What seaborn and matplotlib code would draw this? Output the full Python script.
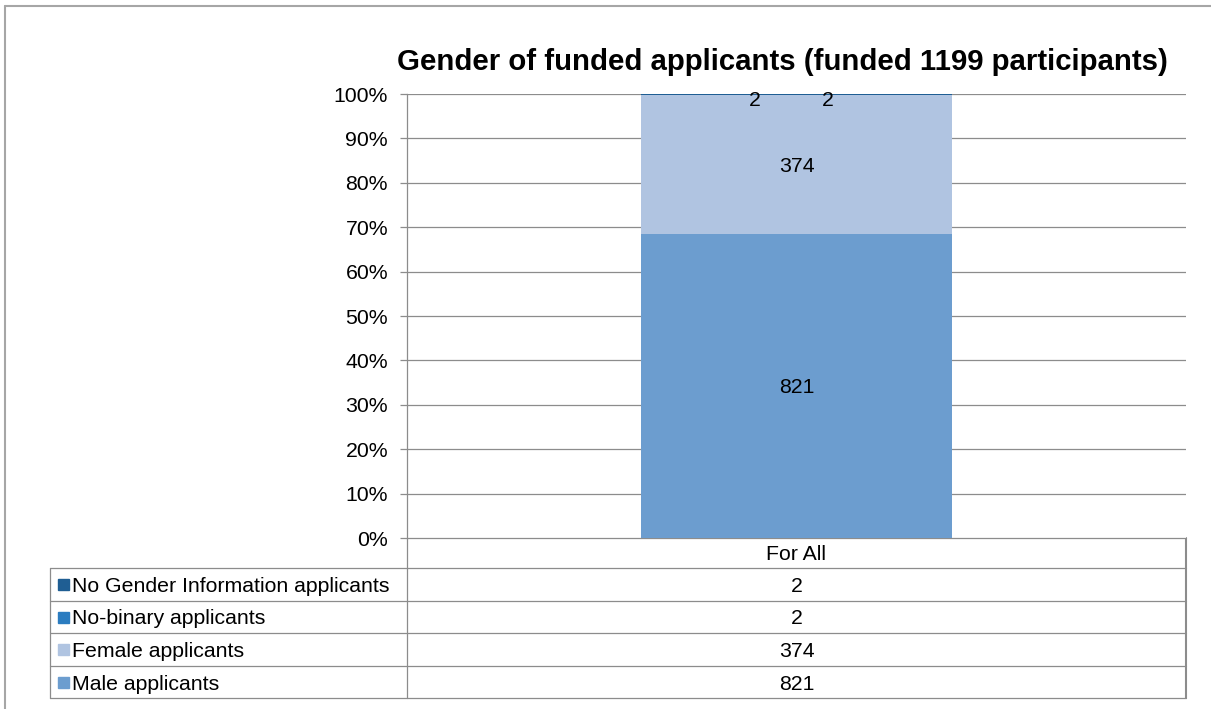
import matplotlib
matplotlib.use("Agg")
import matplotlib.pyplot as plt
import seaborn as sns
import pandas as pd
from matplotlib.lines import Line2D
from matplotlib.patches import Rectangle

# ---------------- data ----------------
category = ["For All"]
series_names = ["Male applicants", "Female applicants", "No-binary applicants",
                "No Gender Information applicants"]
male = [821]
female = [374]
nonbinary = [2]
nogender = [2]
title = "Gender of funded applicants (funded 1199 participants)"
yticks = [0, 10, 20, 30, 40, 50, 60, 70, 80, 90, 100]
ytick_labels = [f"{t}%" for t in yticks]

colors = {"Male applicants": "#6C9DCF",
          "Female applicants": "#B0C4E1",
          "No-binary applicants": "#2B7CC0",
          "No Gender Information applicants": "#1F5E93"}

values = {"Male applicants": male, "Female applicants": female,
          "No-binary applicants": nonbinary, "No Gender Information applicants": nogender}

total = sum(v[0] for v in values.values())
cum = []
running = 0
for name in series_names:
    running += values[name][0]
    cum.append(running / total * 100)

sns.set_theme(style="white")
plt.rcParams["font.family"] = ["Liberation Sans", "DejaVu Sans"]
plt.rcParams["text.color"] = "black"
plt.rcParams["ytick.labelcolor"] = "black"

FS = 15.3
W, H = 1211, 709
fig = plt.figure(figsize=(W / 100, H / 100), dpi=100)

def fx(px):
    return px / W

def fy(py):
    return 1 - py / H

L, R, T, B = 407, 1186, 94, 538
ax = fig.add_axes([fx(L), fy(B), fx(R) - fx(L), fy(T) - fy(B)])

# stacked bars drawn from top of stack down (overlapping cumulative heights)
for name, c in reversed(list(zip(series_names, cum))):
    df = pd.DataFrame({"cat": category, "val": [c]})
    sns.barplot(data=df, x="cat", y="val", color=colors[name], saturation=1,
                width=0.4, ax=ax, edgecolor="none", linewidth=0)

ax.set_xlim(-0.5, 0.5)
ax.set_ylim(0, 100)
ax.set_yticks(yticks)
ax.set_yticklabels(ytick_labels, fontsize=FS, color="black")
ax.set_xticks([])
ax.set_xlabel("")
ax.set_ylabel("")
ax.yaxis.grid(True, color="#8C8C8C", linewidth=0.9)
ax.set_axisbelow(True)
for s in ["top", "right", "bottom"]:
    ax.spines[s].set_visible(False)
ax.spines["left"].set_color("#8C8C8C")
ax.spines["left"].set_linewidth(0.9)
ax.tick_params(axis="y", length=5, width=0.9, color="#8C8C8C", pad=8.6, left=True)

# bar labels
prev = 0
mids = []
for c in cum:
    mids.append((prev + c) / 2)
    prev = c
ax.text(0, mids[0], str(male[0]), ha="center", va="center_baseline", fontsize=FS)
ax.text(0, mids[1], str(female[0]), ha="center", va="center_baseline", fontsize=FS)
ax.text(-0.053, 99.0, str(nonbinary[0]), ha="center", va="center_baseline", fontsize=FS)
ax.text(0.040, 99.0, str(nogender[0]), ha="center", va="center_baseline", fontsize=FS)

fig.text(fx(782), fy(59), title, ha="center", va="center_baseline", fontsize=21.2,
         fontweight="bold", color="black")

# ---------------- overlay for table & frame ----------------
ov = fig.add_axes([0, 0, 1, 1], zorder=-1)
ov.set_xlim(0, W)
ov.set_ylim(H, 0)
ov.axis("off")
ov.patch.set_alpha(0)

lc = "#8C8C8C"
# outer chart frame
ov.add_line(Line2D([5, 5], [H, 6], color="#A6A6A6", lw=1.5))
ov.add_line(Line2D([5, W], [6, 6], color="#A6A6A6", lw=1.5))

rows_y = [568, 601, 633, 666, 698]
x0, xm, x1 = 50, 407, 1186
ov.add_line(Line2D([xm, x1], [538, 538], color=lc, lw=0.9))
for y in rows_y:
    ov.add_line(Line2D([x0, x1], [y, y], color=lc, lw=0.9))
ov.add_line(Line2D([x0, x0], [568, 698], color=lc, lw=0.9))
ov.add_line(Line2D([xm, xm], [538, 698], color=lc, lw=0.9))
ov.add_line(Line2D([x1, x1], [538, 698], color=lc, lw=1.5))

xc = (xm + x1) / 2
ov.text(xc, 553, category[0], ha="center", va="center_baseline", fontsize=FS)

table_order = list(reversed(series_names))
for i, name in enumerate(table_order):
    yc = (rows_y[i] + rows_y[i + 1]) / 2
    ov.add_patch(Rectangle((58, yc - 5.5), 11, 11, color=colors[name]))
    ov.text(72, yc, name, ha="left", va="center_baseline", fontsize=FS)
    ov.text(xc, yc, str(values[name][0]), ha="center", va="center_baseline", fontsize=FS)

fig.savefig("out.png", dpi=100, facecolor="white")
